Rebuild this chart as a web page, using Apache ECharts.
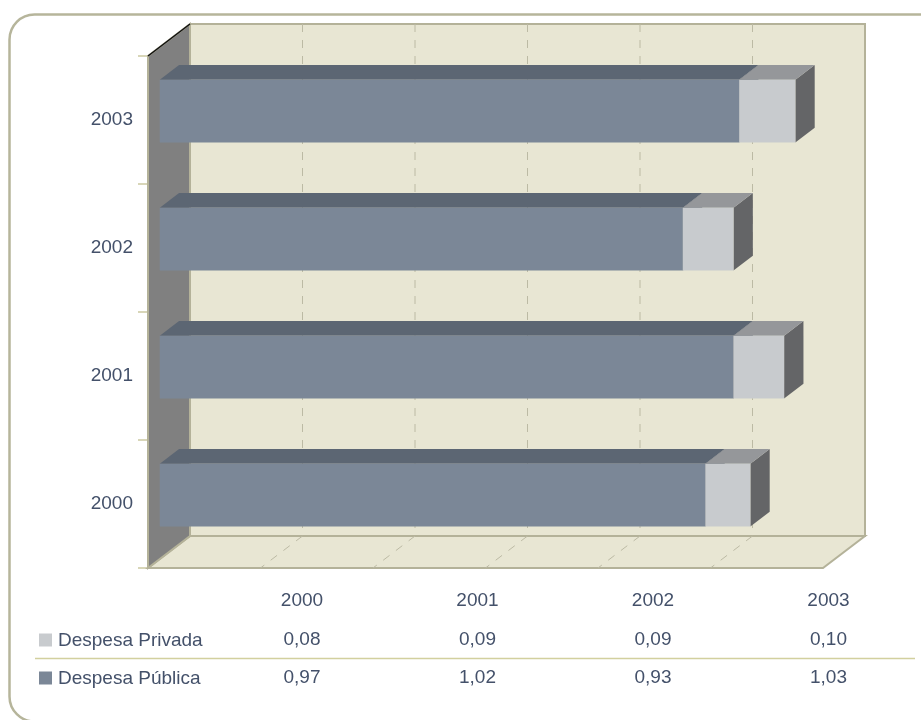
<!DOCTYPE html>
<html>
<head>
<meta charset="utf-8">
<script src="https://cdn.jsdelivr.net/npm/echarts@6/dist/echarts.min.js"></script>
<style>
html,body{margin:0;padding:0;background:#fff;}
#chart{width:921px;height:720px;}
</style>
</head>
<body>
<div id="chart"></div>
<script>
// ---- data ----
const categories = ['2000', '2001', '2002', '2003'];
const despesaPrivada = [0.08, 0.09, 0.09, 0.10];
const despesaPublica = [0.97, 1.02, 0.93, 1.03];
const seriesNames = ['Despesa Privada', 'Despesa Pública'];

// ---- style ----
const TEXT = '#44516a';
const FONT = '"Liberation Sans", Arial, sans-serif';
const DX = 42, DY = -32;          // depth vector of the 3D box
const T1 = 0.28, T2 = 0.74;       // bar depth (fraction of box depth)
const BAR_H = 0.49;               // bar thickness (fraction of band)
const WALL = '#e8e6d3', EDGE = '#b4b299', SIDEWALL = '#808080', GRID = '#bcbaa4';
const COLORS = {
  pub: {front: '#7b8797', top: '#5c6673', side: '#4f5762'},
  priv: {front: '#c8cbce', top: '#95979a', side: '#646567'}
};

const fmt = v => v.toFixed(2).replace('.', ',');

function wallsRender(params, api) {
  const cs = params.coordSys;
  const x0 = cs.x, y0 = cs.y, x1 = cs.x + cs.width, y1 = cs.y + cs.height;
  const children = [];
  // back wall
  children.push({type: 'rect', shape: {x: x0 + DX, y: y0 + DY, width: cs.width, height: cs.height},
    style: {fill: WALL, stroke: EDGE, lineWidth: 2}});
  // floor
  children.push({type: 'polygon', shape: {points: [[x0, y1], [x1, y1], [x1 + DX, y1 + DY], [x0 + DX, y1 + DY]]},
    style: {fill: WALL, stroke: EDGE, lineWidth: 2}});
  // grid lines on back wall and floor
  const ext = api.getWidth ? null : null;
  const maxV = 1.2, step = 0.2;
  for (let i = 1; i * step < maxV - 1e-9; i++) {
    const v = i * step;
    const x = api.coord([v, 0])[0];
    children.push({type: 'line', shape: {x1: x + DX, y1: y0 + DY, x2: x + DX, y2: y1 + DY},
      style: {stroke: GRID, lineWidth: 1, lineDash: [8, 8]}});
    children.push({type: 'line', shape: {x1: x + DX, y1: y1 + DY, x2: x, y2: y1},
      style: {stroke: GRID, lineWidth: 1, lineDash: [8, 8]}});
  }
  // left side wall
  children.push({type: 'polygon', shape: {points: [[x0, y0], [x0 + DX, y0 + DY], [x0 + DX, y1 + DY], [x0, y1]]},
    style: {fill: SIDEWALL, stroke: EDGE, lineWidth: 2}});
  children.push({type: 'line', shape: {x1: x0, y1: y0, x2: x0 + DX, y2: y0 + DY},
    style: {stroke: '#111', lineWidth: 1.5}});
  return {type: 'group', children: children};
}

function barRender(colors) {
  return function (params, api) {
    const cat = api.value(0), start = api.value(1), end = api.value(2);
    const p0 = api.coord([start, cat]);
    const p1 = api.coord([end, cat]);
    const band = api.size([0, 1])[1];
    const h = band * BAR_H;
    const xa = p0[0] + T1 * DX, xb = p1[0] + T1 * DX;
    const cy = p0[1] + T1 * DY;
    const yt = cy - h / 2, yb = cy + h / 2;
    const ddx = (T2 - T1) * DX, ddy = (T2 - T1) * DY;
    return {type: 'group', children: [
      {type: 'polygon', shape: {points: [[xb, yt], [xb, yb], [xb + ddx, yb + ddy], [xb + ddx, yt + ddy]]},
        style: {fill: colors.side}},
      {type: 'polygon', shape: {points: [[xa, yt], [xb, yt], [xb + ddx, yt + ddy], [xa + ddx, yt + ddy]]},
        style: {fill: colors.top}},
      {type: 'rect', shape: {x: xa, y: yt, width: xb - xa, height: yb - yt},
        style: {fill: colors.front}}
    ]};
  };
}

const pubData = categories.map((c, i) => [i, 0, despesaPublica[i]]);
const privData = categories.map((c, i) => [i, despesaPublica[i], despesaPublica[i] + despesaPrivada[i]]);

// data table graphic
const colX = categories.map((c, i) => 302 + i * 175.5);
const graphic = [];
graphic.push({type: 'rect', shape: {x: 9.5, y: 14.5, width: 945, height: 707, r: 25},
  style: {fill: 'none', stroke: '#b6b59b', lineWidth: 2.5}, silent: true});
categories.forEach((c, i) => {
  graphic.push({type: 'text', x: colX[i], y: 601,
    style: {text: c, fill: TEXT, font: '19px ' + FONT, textAlign: 'center', textVerticalAlign: 'middle'}});
  graphic.push({type: 'text', x: colX[i], y: 640,
    style: {text: fmt(despesaPrivada[i]), fill: TEXT, font: '19px ' + FONT, textAlign: 'center', textVerticalAlign: 'middle'}});
  graphic.push({type: 'text', x: colX[i], y: 678,
    style: {text: fmt(despesaPublica[i]), fill: TEXT, font: '19px ' + FONT, textAlign: 'center', textVerticalAlign: 'middle'}});
});
graphic.push({type: 'line', shape: {x1: 35, y1: 658.5, x2: 915, y2: 658.5}, style: {stroke: '#d2d09e', lineWidth: 1.5}});
[[seriesNames[0], COLORS.priv.front, 640], [seriesNames[1], COLORS.pub.front, 678]].forEach(r => {
  graphic.push({type: 'rect', shape: {x: 39, y: r[2] - 6.5, width: 13, height: 13}, style: {fill: r[1]}});
  graphic.push({type: 'text', x: 58, y: r[2] + 1,
    style: {text: r[0], fill: TEXT, font: '19px ' + FONT, textAlign: 'left', textVerticalAlign: 'middle'}});
});

const chart = echarts.init(document.getElementById('chart'), null, {renderer: 'canvas'});
chart.setOption({
  animation: false,
  backgroundColor: '#fff',
  grid: {left: 148, top: 56, width: 675, height: 512, containLabel: false, outerBoundsMode: 'none'},
  xAxis: {type: 'value', min: 0, max: 1.2, interval: 0.2,
    axisLine: {show: false}, axisTick: {show: false}, axisLabel: {show: false}, splitLine: {show: false}},
  yAxis: {type: 'category', data: categories,
    axisLine: {show: false},
    axisTick: {show: true, length: 10, lineStyle: {color: '#d8d6b8', width: 2}},
    axisLabel: {color: TEXT, fontSize: 19, fontFamily: FONT, margin: 15}},
  graphic: graphic,
  series: [
    {type: 'custom', name: 'walls', renderItem: wallsRender, data: [[0, 0]], z: 1, clip: false, silent: true},
    {type: 'custom', name: seriesNames[1], renderItem: barRender(COLORS.pub), data: pubData,
      encode: {x: [1, 2], y: 0}, z: 2, clip: false},
    {type: 'custom', name: seriesNames[0], renderItem: barRender(COLORS.priv), data: privData,
      encode: {x: [1, 2], y: 0}, z: 3, clip: false}
  ]
});
</script>
</body>
</html>
